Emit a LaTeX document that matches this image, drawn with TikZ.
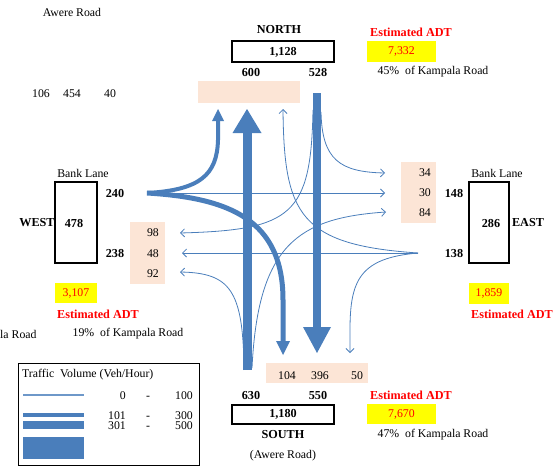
\documentclass[tikz,border=0pt]{standalone}
\usepackage{fontspec}
\setmainfont{Liberation Serif}
\usetikzlibrary{arrows.meta}
\definecolor{flowblue}{RGB}{74,126,187}
\definecolor{peach}{RGB}{252,229,214}
\definecolor{adtred}{RGB}{255,0,0}
\definecolor{adtyellow}{RGB}{255,255,0}
\begin{document}
\begin{tikzpicture}[x=1pt,y=-1pt,
  txt/.style={inner sep=0pt, font=\fontsize{11.8}{13}\selectfont},
  btxt/.style={inner sep=0pt, font=\fontsize{12.2}{13}\selectfont\bfseries},
  redb/.style={btxt, text=adtred},
  framebox/.style={draw=black, line width=1.2pt, inner sep=0pt},
  peachbox/.style={fill=peach, inner sep=0pt},
  yelbox/.style={fill=adtyellow, inner sep=0pt, text=adtred, font=\fontsize{11.8}{13}\selectfont},
  thinflow/.style={draw=flowblue, line width=0.8pt, -{Straight Barb[length=4pt,width=8pt]}},
  midflow/.style={draw=flowblue, line width=#1},
  bigtip/.style={-{Triangle[length=24pt,width=29pt,line width=0pt]}},
]
\useasboundingbox (0,0) rectangle (560,466);

% ---------- background boxes ----------
\node[peachbox, minimum width=102pt, minimum height=22pt] (npeach) at (249,92) {};
\node[peachbox, minimum width=35pt, minimum height=62pt] (wpeach) at (147.5,253) {};
\node[peachbox, minimum width=35pt, minimum height=61pt] (epeach) at (418.5,192.5) {};
\node[peachbox, minimum width=102pt, minimum height=20pt] (speach) at (317,373) {};

% ---------- coordinates ----------
\coordinate (Wo) at (147,193);
\coordinate (Eo) at (418,253);
\coordinate (Ntop) at (317,93);
\coordinate (Ntip) at (317,353);
\coordinate (Sbot) at (247,370);
\coordinate (Stip) at (247,109);
\coordinate (NEs) at (321,112);
\coordinate (NEt) at (385,173);
\coordinate (NWs) at (313,110);
\coordinate (NWt) at (180,233);
\coordinate (WNt) at (218,109);
\coordinate (WSt) at (283,355);
\coordinate (WEt) at (385,193);
\coordinate (EWt) at (182,253);
\coordinate (ENt) at (283,109);
\coordinate (ESt) at (350,353);
\coordinate (SWs) at (244,368);
\coordinate (SWt) at (180,272);
\coordinate (SEs) at (252,368);
\coordinate (SEt) at (386,212);

% ---------- thin flows ----------
\draw[thinflow] (Wo) -- (WEt);
\draw[thinflow] (Eo) -- (EWt);
\draw[thinflow] (NEs) .. controls (322,160) and (340,172) .. (NEt);
\draw[thinflow] (NWs) .. controls (311,215) and (292,230) .. (NWt);
\draw[thinflow] (Eo) .. controls (300,245) and (284,215) .. (ENt);
\draw[thinflow] (Eo) .. controls (360,258) and (350,280) .. (350,330) -- (ESt);
\draw[thinflow] (SWs) .. controls (243,290) and (230,273) .. (SWt);
\draw[thinflow] (SEs) .. controls (258,245) and (298,218) .. (SEt);

% ---------- thick flows ----------
\draw[midflow=4pt, -{Triangle[length=12pt,width=12pt,line width=0pt]}]
  (Wo) .. controls (200,190) and (217,175) .. (218,140) -- (WNt);
\draw[midflow=5pt, -{Triangle[length=14pt,width=14pt,line width=0pt]}]
  (Wo) .. controls (230,198) and (283,220) .. (283,300) -- (WSt);
\draw[midflow=8pt, -{Triangle[length=26pt,width=28pt,line width=0pt]}] (Ntop) -- (Ntip);
\draw[midflow=9pt, bigtip] (Sbot) -- (Stip);

% ---------- north ----------
\node[txt] (awere) at (72,12) {Awere Road};
\node[btxt] (north) at (279,30) {NORTH};
\node[framebox, minimum width=102pt, minimum height=21pt] (nbox) at (283,51.5) {};
\node[btxt] (nval) at (283,52) {1,128};
\node[btxt] (n600) at (251,73) {600};
\node[btxt] (n528) at (318,73) {528};
\node[redb] (nadt) at (411,32) {Estimated ADT};
\node[yelbox, minimum width=69pt, minimum height=21pt] (nyel) at (401.5,51.5) {7,332};
\node[txt] (npct) at (433,72) {45\%\ \ of Kampala Road};
\node[txt] (n106) at (41,94) {106};
\node[txt] (n454) at (72,94) {454};
\node[txt] (n40) at (110,94) {40};

% ---------- west ----------
\node[txt] (wbank) at (83,173) {Bank Lane};
\node[framebox, minimum width=42pt, minimum height=81pt] (wbox) at (76,222.5) {};
\node[btxt] (wval) at (74,223) {478};
\node[btxt] (west) at (37,223) {WEST};
\node[btxt] (w240) at (115,193) {240};
\node[btxt] (w238) at (115,253) {238};
\node[txt, anchor=east] (w98) at (159,233) {98};
\node[txt, anchor=east] (w48) at (159,254) {48};
\node[txt, anchor=east] (w92) at (159,274) {92};
\node[yelbox, minimum width=42pt, minimum height=20pt] (wyel) at (76,293) {3,107};
\node[redb] (wadt) at (98,314) {Estimated ADT};
\node[txt, anchor=west] (wroad) at (0,334) {la Road};
\node[txt] (wpct) at (128,334) {19\%\ \ of Kampala Road};

% ---------- east ----------
\node[txt] (ebank) at (497,173) {Bank Lane};
\node[framebox, minimum width=40pt, minimum height=81pt] (ebox) at (489,222.5) {};
\node[btxt] (eval) at (491,223) {286};
\node[btxt] (east) at (528,223) {EAST};
\node[btxt] (e148) at (454,193) {148};
\node[btxt] (e138) at (454,253) {138};
\node[txt, anchor=east] (e34) at (431,173) {34};
\node[txt, anchor=east] (e30) at (431,193) {30};
\node[txt, anchor=east] (e84) at (431,213) {84};
\node[yelbox, minimum width=40pt, minimum height=21pt] (eyel) at (489,293.5) {1,859};
\node[redb] (eadt) at (512,314) {Estimated ADT};

% ---------- south ----------
\node[txt] (s104) at (287,376) {104};
\node[txt] (s396) at (320,376) {396};
\node[txt] (s50) at (357,376) {50};
\node[btxt] (s630) at (251,395) {630};
\node[btxt] (s550) at (318,395) {550};
\node[framebox, minimum width=102pt, minimum height=19pt] (sbox) at (283,414.5) {};
\node[btxt] (sval) at (283,414) {1,180};
\node[btxt] (south) at (283,435) {SOUTH};
\node[txt] (sroad) at (283,456) {(Awere Road)};
\node[redb] (sadt) at (411,395) {Estimated ADT};
\node[yelbox, minimum width=69pt, minimum height=20pt] (syel) at (401.5,414) {7,670};
\node[txt] (spct) at (433,435) {47\%\ \ of Kampala Road};

% ---------- legend ----------
\node[draw=black, line width=1pt, minimum width=181pt, minimum height=102pt, inner sep=0pt] (legend) at (108.5,414) {};
\node[txt, anchor=west] (ltitle) at (22,375) {Traffic\ \ Volume (Veh/Hour)};
\draw[draw=flowblue!80, line width=1.5pt] (23,395) -- (84,395);
\draw[draw=flowblue, line width=4.5pt] (23,415) -- (84,415);
\draw[draw=flowblue, line width=8pt] (23,425) -- (84,425);
\fill[flowblue] (23,437) rectangle (84,459);
\node[txt, anchor=base east] (l0) at (126,399) {0};
\node[txt, anchor=base] (ld1) at (148,399) {-};
\node[txt, anchor=base east] (l100) at (193,399) {100};
\node[txt, anchor=base east] (l101) at (126,419) {101};
\node[txt, anchor=base] (ld2) at (148,419) {-};
\node[txt, anchor=base east] (l300) at (193,419) {300};
\node[txt, anchor=base east] (l301) at (126,429.5) {301};
\node[txt, anchor=base] (ld3) at (148,429.5) {-};
\node[txt, anchor=base east] (l500) at (193,429.5) {500};
\end{tikzpicture}
\end{document}
